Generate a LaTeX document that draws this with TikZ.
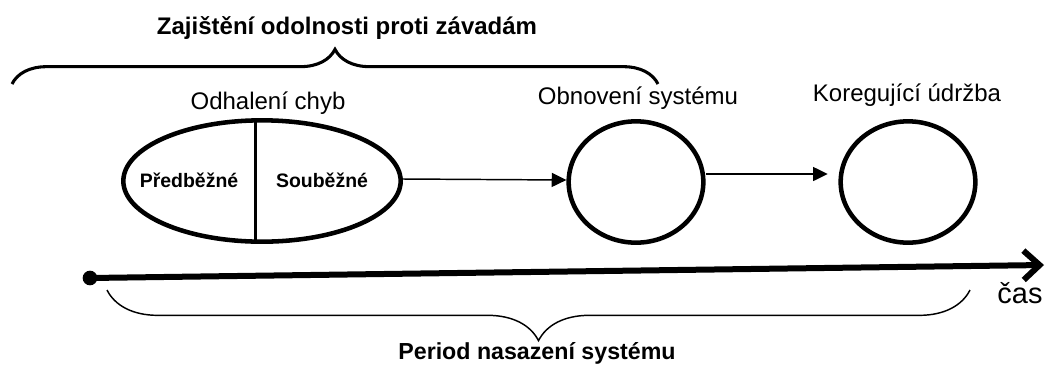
\documentclass[tikz,border=0pt]{standalone}
\usepackage{fontspec}
\setmainfont{Liberation Sans}
\usetikzlibrary{positioning,arrows.meta,shapes.geometric,decorations.pathreplacing}
\tikzset{
  phase/.style ={ellipse, draw=black, line width=3.4pt, inner sep=0pt},
  plabel/.style={anchor=base, font=\fontsize{18}{20}\selectfont},
  part/.style  ={anchor=base, font=\bfseries\fontsize{14.6}{16}\selectfont},
  head/.style  ={anchor=base, font=\bfseries\fontsize{18}{20}\selectfont},
  arr/.style   ={-{Triangle[length=11pt,width=10.5pt]}, line width=1.1pt},
  tbrace/.style={decorate, decoration={brace, amplitude=26pt}, line width=2.3pt},
  bbrace/.style={decorate, decoration={brace, amplitude=38pt}, line width=1.1pt},
  tline/.style ={-{Straight Barb[length=12pt,width=22pt]}, line width=4.5pt},
  dot/.style   ={circle, fill=black, minimum size=11pt, inner sep=0pt},
}

\begin{document}
\begin{tikzpicture}[x=0.75pt, y=-0.75pt]
  \useasboundingbox (0,0) rectangle (1046,365);
  % phases
  \node[phase, minimum width=208pt, minimum height=91pt] (det) at (262,181) {};
  \node[phase, minimum width=101pt, minimum height=91pt] (rec) at (636,182) {};
  \node[phase, minimum width=101pt, minimum height=91pt] (mnt) at (908,182) {};
  \draw[line width=2.3pt] ([xshift=-5pt]det.north) -- ([xshift=-5pt]det.south);
  \node[part] (pre) at (189,187) {Předběžné};
  \node[part] (con) at (322,187) {Souběžné};
  \node[plabel] (ldet) at (268,109) {Odhalení chyb};
  \node[plabel] (lrec) at (638,104) {Obnovení systému};
  \node[plabel] (lmnt) at (907,101) {Koregující údržba};
  \draw[arr] ([yshift=1.5pt]det.east) -- ([yshift=1.5pt]rec.west);
  \draw[arr, shorten >=8pt] ([yshift=6pt]rec.east) -- ([yshift=6pt]mnt.west);
  % time axis
  \node[dot] (t0) at (90,278) {};
  \coordinate (t1) at (1044,265);
  \draw[tline] (t0.center) -- (t1);
  \node[anchor=base, font=\fontsize{21.7}{24}\selectfont] (cas) at (1020,303) {čas};
  % braces
  \coordinate (tb0) at (12,84);
  \coordinate (tb1) at (658,84);
  \draw[tbrace] (tb0) -- (tb1);
  \node[head] (ttop) at (347,34) {Zajištění odolnosti proti závadám};
  \coordinate (bb0) at (970,290);
  \coordinate (bb1) at (107,290);
  \draw[bbrace] (bb0) -- (bb1);
  \node[head, font=\bfseries\fontsize{17.4}{20}\selectfont] (tbot) at (537,359) {Period nasazení systému};
\end{tikzpicture}
\end{document}
